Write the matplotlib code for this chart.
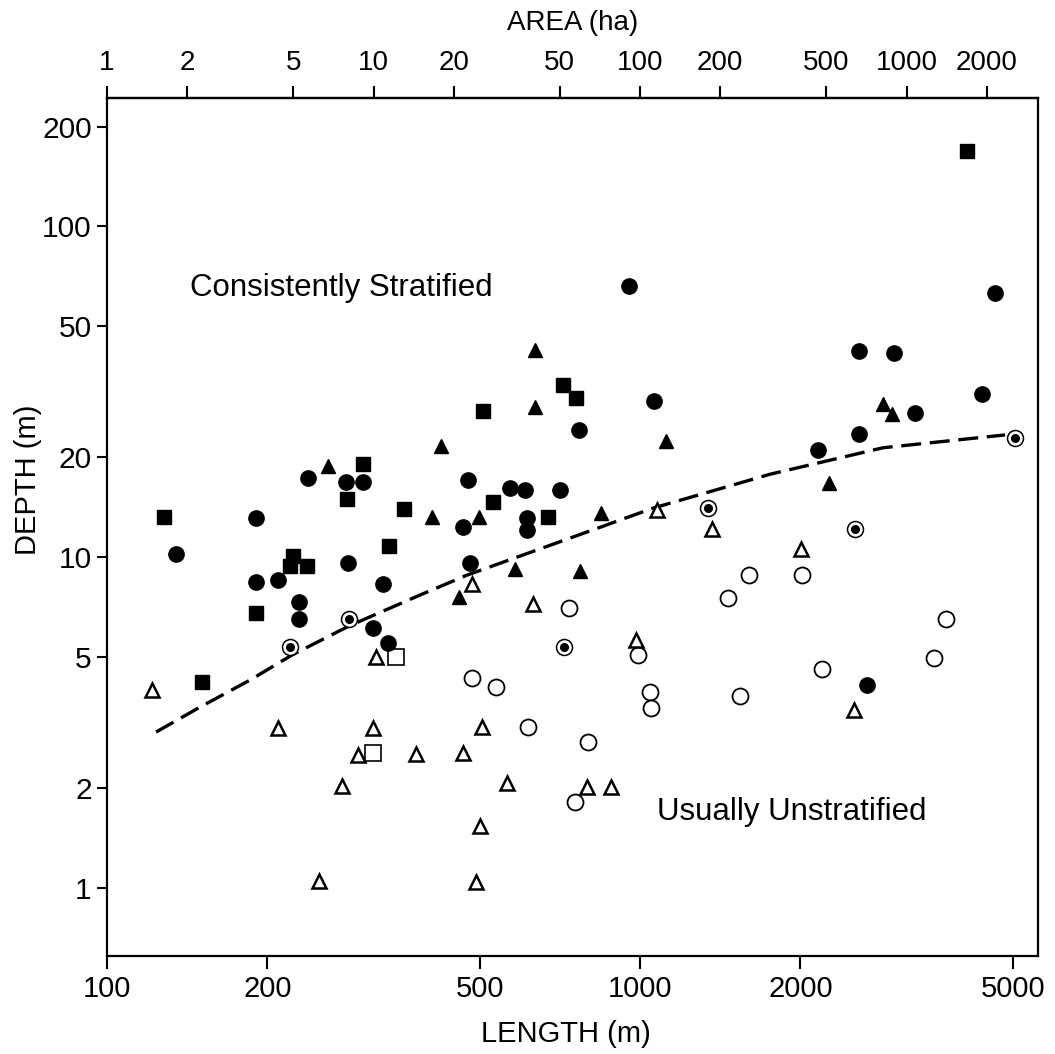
import numpy as np
import matplotlib
matplotlib.use("Agg")
import matplotlib.pyplot as plt
from matplotlib.ticker import FixedLocator, NullLocator, FuncFormatter

plt.rcParams['font.family'] = ['Liberation Sans', 'DejaVu Sans']

# filled circles
fc_len = [954, 4635, 2575, 2997, 4382, 1062, 3281, 769, 2575, 2158, 238, 281, 302, 476,
          570, 609, 708, 190, 614, 466, 614, 135, 283, 480, 190, 209, 330, 229, 229, 316,
          337, 2666]
fc_dep = [65.9, 62.8, 41.9, 41.3, 31.1, 29.6, 27.2, 24.2, 23.5, 21.1, 17.3, 16.9, 16.9, 17.1,
          16.2, 15.9, 16.0, 13.1, 13.1, 12.3, 12.1, 10.2, 9.6, 9.6, 8.4, 8.5, 8.3, 7.3, 6.5, 6.1,
          5.5, 4.1]

# filled squares
fs_len = [4107, 717, 759, 508, 302, 282, 530, 361, 128, 672, 338, 223, 220, 237, 190, 151]
fs_dep = [168.5, 33.1, 30.2, 27.6, 19.1, 15.0, 14.7, 14.0, 13.2, 13.2, 10.8, 10.1, 9.4, 9.4, 6.8, 4.2]

# filled triangles
ft_len = [635, 635, 2857, 2971, 1119, 423, 260, 2263, 407, 499, 845, 583, 772, 458]
ft_dep = [42.2, 28.4, 29.0, 27.0, 22.4, 21.6, 18.8, 16.7, 13.2, 13.2, 13.6, 9.2, 9.1, 7.6]

# open circles
oc_len = [1602, 2014, 1463, 736, 3751, 991, 3562, 2196, 484, 537, 1044, 1049, 1541, 616, 799, 755]
oc_dep = [8.8, 8.8, 7.5, 7.0, 6.5, 5.06, 4.95, 4.6, 4.3, 4.05, 3.9, 3.5, 3.8, 3.06, 2.76, 1.82]

# open triangles
ot_len = [1076, 1365, 2005, 630, 484, 983, 320, 121.5, 2520, 209, 316, 505, 296, 380, 466,
          276, 563, 796, 883, 501, 250, 492]
ot_dep = [13.9, 12.2, 10.6, 7.2, 8.3, 5.6, 5.0, 3.97, 3.45, 3.04, 3.04, 3.06, 2.52, 2.54, 2.56,
          2.03, 2.08, 2.02, 2.02, 1.54, 1.05, 1.04]

# open squares
os_len = [349, 316]
os_dep = [5.0, 2.56]

# circles with a dot
cd_len = [220, 284, 720, 1342, 2531, 5052]
cd_dep = [5.35, 6.5, 5.35, 14.1, 12.2, 22.9]

# dashed boundary
line_len = [123.6, 149.4, 185.5, 222.4, 284.4, 386.6, 473.6, 841, 1058, 1754, 2858, 4840]
line_dep = [2.96, 3.52, 4.25, 5.06, 6.19, 7.68, 8.82, 12.3, 14.06, 17.8, 21.4, 23.4]

len_ticks = [100, 200, 500, 1000, 2000, 5000]
dep_ticks = [1, 2, 5, 10, 20, 50, 100, 200]
area_ticks = [1, 2, 5, 10, 20, 50, 100, 200, 500, 1000, 2000]

fig = plt.figure(figsize=(10.55, 10.54), dpi=100)
ax = fig.add_axes([107/1055, (1054-956)/1054, (1038-107)/1055, (956-98)/1054])
ax.set_xscale('log')
ax.set_yscale('log')
ax.set_xlim(100, 5580)
ax.set_ylim(0.623, 244)

ax.plot(line_len, line_dep, color='black', lw=2.4, dashes=(6, 2.6), zorder=2)

ax.plot(os_len, os_dep, 's', ms=11, mfc='white', mec='black', mew=1.2, ls='none', zorder=3)
ax.plot(oc_len, oc_dep, 'o', ms=11.5, mfc='white', mec='black', mew=1.3, ls='none', zorder=3)
ax.plot(ot_len, ot_dep, '^', ms=10, mfc='white', mec='black', mew=1.8, ls='none', zorder=3)
ax.plot(cd_len, cd_dep, 'o', ms=11.5, mfc='white', mec='black', mew=1.1, ls='none', zorder=3)
ax.plot(cd_len, cd_dep, 'o', ms=5.5, color='black', ls='none', zorder=4)
ax.plot(fc_len, fc_dep, 'o', ms=11, color='black', ls='none', zorder=4)
ax.plot(fs_len, fs_dep, 's', ms=10.5, color='black', ls='none', zorder=4)
ax.plot(ft_len, ft_dep, '^', ms=10.5, color='black', ls='none', zorder=4)

ax.text(143, 65.1, 'Consistently Stratified', fontsize=22.5, ha='left', va='center')
ax.text(1076, 1.70, 'Usually Unstratified', fontsize=22.5, ha='left', va='center')

plain = FuncFormatter(lambda v, p: '%g' % v)
ax.xaxis.set_major_locator(FixedLocator(len_ticks))
ax.xaxis.set_minor_locator(NullLocator())
ax.xaxis.set_major_formatter(plain)
ax.yaxis.set_major_locator(FixedLocator(dep_ticks))
ax.yaxis.set_minor_locator(NullLocator())
ax.yaxis.set_major_formatter(plain)
ax.tick_params(axis='x', which='major', direction='out', length=9, width=1.5,
               pad=5, labelsize=21, top=False)
ax.tick_params(axis='y', which='major', direction='out', length=7, width=1.5,
               pad=4, labelsize=21.5, right=False)
for s in ax.spines.values():
    s.set_linewidth(1.6)

secax = ax.secondary_xaxis('top', functions=(lambda L: np.asarray(L)**2 / 1e4,
                                             lambda A: np.sqrt(np.maximum(A, 1e-12) * 1e4)))
secax.xaxis.set_major_locator(FixedLocator(area_ticks))
secax.xaxis.set_minor_locator(NullLocator())
secax.xaxis.set_major_formatter(plain)
secax.tick_params(axis='x', direction='out', length=9, width=1.5, pad=7, labelsize=20)
secax.spines['top'].set_linewidth(1.6)

ax.set_xlabel('LENGTH (m)', fontsize=21, va='center')
ax.xaxis.set_label_coords(0.493, -0.091)
ax.set_ylabel('DEPTH (m)', fontsize=21, va='center')
ax.yaxis.set_label_coords(-0.0849, 0.555)
secax.set_xlabel('AREA (ha)', fontsize=20, labelpad=14)

fig.savefig('out.png', dpi=100)
